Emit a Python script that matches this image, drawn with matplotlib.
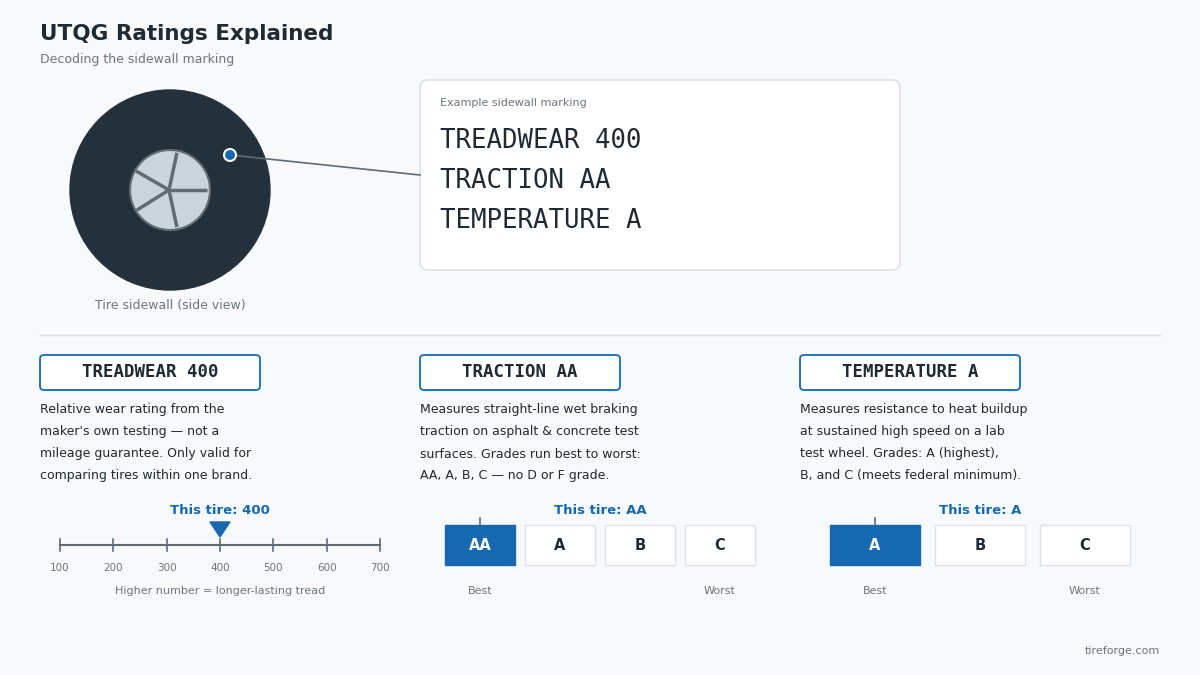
import matplotlib.pyplot as plt
import numpy as np
from matplotlib.patches import Circle, FancyBboxPatch, Rectangle, Polygon

# data
marking_lines = ["TREADWEAR 400", "TRACTION AA", "TEMPERATURE A"]
treadwear_ticks = [100, 200, 300, 400, 500, 600, 700]
treadwear_value = 400
traction_grades = ["AA", "A", "B", "C"]
traction_value = "AA"
temperature_grades = ["A", "B", "C"]
temperature_value = "A"
descriptions = [
    ["Relative wear rating from the", "maker's own testing — not a",
     "mileage guarantee. Only valid for", "comparing tires within one brand."],
    ["Measures straight-line wet braking", "traction on asphalt & concrete test",
     "surfaces. Grades run best to worst:", "AA, A, B, C — no D or F grade."],
    ["Measures resistance to heat buildup", "at sustained high speed on a lab",
     "test wheel. Grades: A (highest),", "B, and C (meets federal minimum)."],
]

BG = "#f7f9fb"
DARK = "#1f2a33"
GRAY = "#6b7680"
BLUE = "#1668b0"
LINE = "#5f6b75"

fig = plt.figure(figsize=(12, 6.75), dpi=100, facecolor=BG)
ax = fig.add_axes([0, 0, 1, 1])
ax.set_xlim(0, 1200)
ax.set_ylim(675, 0)
ax.axis("off")
ax.set_facecolor(BG)

ax.text(40, 34, "UTQG Ratings Explained", fontsize=15.5, fontweight="bold", color=DARK, va="center")
ax.text(40, 59, "Decoding the sidewall marking", fontsize=9, color=GRAY, va="center")

# tire
ax.add_patch(Circle((170, 190), 100, color="#24313a", zorder=2))
ax.add_patch(Circle((170, 190), 40, facecolor="#c9d4dd", edgecolor=LINE, lw=1.5, zorder=3))
for ang in [0, 78, 150, 212, 282]:
    a = np.deg2rad(ang)
    ax.plot([169, 169 + 38 * np.cos(a)], [190, 190 - 38 * np.sin(a)], color=LINE, lw=2.5, zorder=4,
            solid_capstyle="butt")
ax.plot([230, 420], [155, 175], color=LINE, lw=1.2, zorder=4)
ax.add_patch(Circle((230, 155), 6, facecolor=BLUE, edgecolor="white", lw=1.5, zorder=5))
ax.text(170, 305, "Tire sidewall (side view)", fontsize=9, color=GRAY, ha="center", va="center")

# marking box
ax.add_patch(FancyBboxPatch((420, 80), 480, 190, boxstyle="round,pad=0,rounding_size=8",
                            facecolor="white", edgecolor="#dde2e6", lw=1.2))
ax.text(440, 103, "Example sidewall marking", fontsize=8, color=GRAY, va="center")
for i, line in enumerate(marking_lines):
    ax.text(440, 141 + 40 * i, line, fontsize=18.5, family="DejaVu Sans Mono", color=DARK, va="center")

ax.plot([40, 1160], [335, 335], color="#dde2e6", lw=1)

# section headers and descriptions
for i, (x0, bw) in enumerate([(40, 220), (420, 200), (800, 220)]):
    ax.add_patch(FancyBboxPatch((x0, 355), bw, 35, boxstyle="round,pad=0,rounding_size=4",
                                facecolor="white", edgecolor=BLUE, lw=1.3))
    ax.text(x0 + bw / 2, 372, marking_lines[i], fontsize=12.5, family="DejaVu Sans Mono",
            fontweight="bold", color=DARK, ha="center", va="center")
    for j, d in enumerate(descriptions[i]):
        ax.text(x0, 410 + 22 * j, d, fontsize=9, color=DARK, va="center")

# treadwear scale
def tx(v):
    return 60 + (v - treadwear_ticks[0]) / (treadwear_ticks[-1] - treadwear_ticks[0]) * 320

ax.plot([tx(treadwear_ticks[0]), tx(treadwear_ticks[-1])], [545, 545], color=LINE, lw=1.5)
for t in treadwear_ticks:
    ax.plot([tx(t), tx(t)], [539, 551], color=LINE, lw=1.2)
    ax.text(tx(t), 568, str(t), fontsize=7.5, color=GRAY, ha="center", va="center")
xv = tx(treadwear_value)
ax.add_patch(Polygon([[xv - 10, 522], [xv + 10, 522], [xv, 537]], color=BLUE, zorder=5))
ax.text(xv, 510, f"This tire: {treadwear_value}", fontsize=9.5, fontweight="bold", color=BLUE,
        ha="center", va="center")
ax.text(220, 591, "Higher number = longer-lasting tread", fontsize=8, color=GRAY, ha="center", va="center")

# grade boxes
def grade_row(grades, value, x0, w, step, label_x):
    for k, g in enumerate(grades):
        x = x0 + k * step
        sel = g == value
        ax.add_patch(Rectangle((x, 525), w, 40, facecolor=BLUE if sel else "white",
                               edgecolor=BLUE if sel else "#dde2e6", lw=1))
        ax.text(x + w / 2, 545, g, fontsize=10.5, fontweight="bold",
                color="white" if sel else DARK, ha="center", va="center")
        if sel:
            ax.plot([x + w / 2, x + w / 2], [518, 525], color=LINE, lw=1.2)
    ax.text(x0 + w / 2, 591, "Best", fontsize=8, color=GRAY, ha="center", va="center")
    ax.text(x0 + (len(grades) - 1) * step + w / 2, 591, "Worst", fontsize=8, color=GRAY,
            ha="center", va="center")
    ax.text(label_x, 510, f"This tire: {value}", fontsize=9.5, fontweight="bold", color=BLUE,
            ha="center", va="center")

grade_row(traction_grades, traction_value, 445, 70, 80, 600)
grade_row(temperature_grades, temperature_value, 830, 90, 105, 980)

ax.text(1160, 651, "tireforge.com", fontsize=8, color=GRAY, ha="right", va="center")

fig.savefig("out.png", dpi=100, facecolor=BG)
